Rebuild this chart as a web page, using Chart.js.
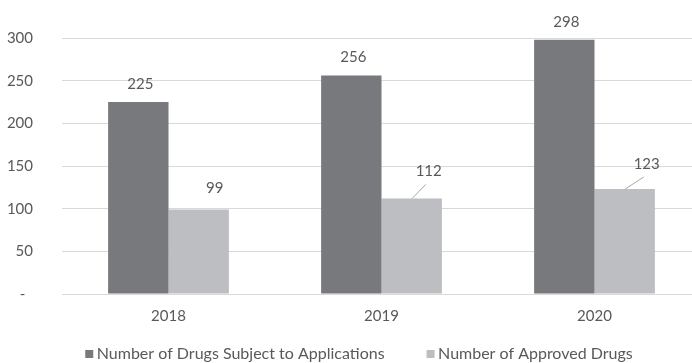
<!DOCTYPE html>
<html>
<head>
<meta charset="utf-8">
<script src="https://cdn.jsdelivr.net/npm/chart.js@4/dist/chart.umd.min.js"></script>
<style>
  html, body { margin: 0; padding: 0; background: #fff; overflow: hidden; }
  #wrap { width: 702px; height: 363px; }
</style>
</head>
<body>
<div id="wrap"><canvas id="chart"></canvas></div>
<script>
const years = ['2018', '2019', '2020'];
const drugsSubjectToApplications = [225, 256, 298];
const approvedDrugs = [99, 112, 123];
const yTicks = [0, 50, 100, 150, 200, 250, 300];

const FONT = 'Lato, "Open Sans", sans-serif';
const TEXT = '#595959';

// value labels above the bars, some pushed aside with a leader line like in Excel
const valueLabels = {
  id: 'valueLabels',
  afterDatasetsDraw(chart, args, opts) {
    const ctx = chart.ctx;
    ctx.save();
    ctx.font = '15px ' + FONT;
    ctx.fillStyle = TEXT;
    ctx.textAlign = 'center';
    ctx.textBaseline = 'middle';
    chart.data.datasets.forEach((ds, i) => {
      const meta = chart.getDatasetMeta(i);
      const place = opts.placement[i];
      meta.data.forEach((bar, j) => {
        const p = place[j];
        const lx = bar.x + p.dx, ly = bar.y - p.dy;
        if (p.leader) {
          ctx.strokeStyle = '#a6a6a6';
          ctx.lineWidth = 1;
          ctx.beginPath();
          ctx.moveTo(bar.x + 0.5, bar.y);
          ctx.lineTo(lx - 3, ly + 13);
          ctx.stroke();
        }
        ctx.fillText(ds.data[j], lx, ly);
      });
    });
    ctx.restore();
  }
};

// legend drawn by hand so the spacing matches the Excel one
const bottomLegend = {
  id: 'bottomLegend',
  afterDraw(chart, args, opts) {
    const ctx = chart.ctx;
    ctx.save();
    ctx.font = '16px ' + FONT;
    const items = chart.data.datasets.map(ds => ({
      text: ds.label, color: ds.backgroundColor, w: ctx.measureText(ds.label).width
    }));
    const box = 8, gap = 3.5, spacing = 42;
    let total = 0;
    items.forEach((it, i) => { total += box + gap + it.w + (i ? spacing : 0); });
    let x = opts.centerX - total / 2;
    const y = opts.y;
    ctx.textBaseline = 'middle';
    ctx.textAlign = 'left';
    items.forEach(it => {
      ctx.fillStyle = it.color;
      ctx.fillRect(x, y - box / 2, box, box);
      ctx.fillStyle = TEXT;
      ctx.fillText(it.text, x + box + gap, y);
      x += box + gap + it.w + spacing;
    });
    ctx.restore();
  }
};

new Chart(document.getElementById('chart'), {
  type: 'bar',
  data: {
    labels: years,
    datasets: [{
      label: 'Number of Drugs Subject to Applications',
      data: drugsSubjectToApplications,
      backgroundColor: '#78797c'
    }, {
      label: 'Number of Approved Drugs',
      data: approvedDrugs,
      backgroundColor: '#bdbec1'
    }]
  },
  options: {
    responsive: true,
    maintainAspectRatio: false,
    animation: false,
    layout: { padding: { top: 31, right: 1, bottom: 25, left: 0 } },
    datasets: {
      bar: { categoryPercentage: 0.567, barPercentage: 1 }
    },
    scales: {
      x: {
        grid: { display: false, drawTicks: false },
        border: { display: false },
        ticks: { color: TEXT, font: { family: FONT, size: 15 }, padding: 13 }
      },
      y: {
        min: 0,
        max: 300,
        afterBuildTicks(scale) { scale.ticks = yTicks.map(v => ({ value: v })); },
        afterFit(scale) { scale.width = 62; },
        grid: { color: '#d9d9d9', lineWidth: 1, drawTicks: false },
        border: { display: false },
        ticks: {
          color: TEXT,
          font: { family: FONT, size: 15 },
          padding: 29,
          callback: v => v === 0 ? '-  ' : v
        }
      }
    },
    plugins: {
      legend: { display: false },
      tooltip: { enabled: false },
      valueLabels: {
        placement: [
          [{ dx: 2, dy: 18 }, { dx: 2, dy: 18 }, { dx: 2, dy: 18 }],
          [{ dx: 16, dy: 21 }, { dx: 17, dy: 27, leader: true }, { dx: 22, dy: 25, leader: true }]
        ]
      },
      bottomLegend: { centerX: 359, y: 354 }
    }
  },
  plugins: [valueLabels, bottomLegend]
});
</script>
</body>
</html>
